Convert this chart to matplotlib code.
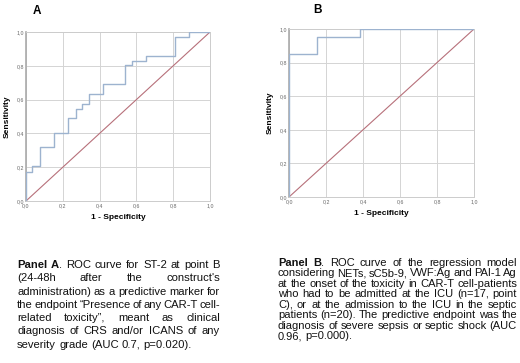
import matplotlib
matplotlib.use('Agg')
import matplotlib.pyplot as plt

plt.rcParams['font.family'] = ['Liberation Sans', 'DejaVu Sans']

# ROC Kurve Panel A (1 - Spezifitaet, Sensitivitaet)
fpr_a = [0.0, 0.0, 0.034, 0.034, 0.076, 0.076, 0.152, 0.152, 0.23, 0.23, 0.27, 0.27,
         0.306, 0.306, 0.344, 0.344, 0.42, 0.42, 0.54, 0.54, 0.578, 0.578, 0.652, 0.652,
         0.81, 0.81, 0.888, 0.888, 1.0]
tpr_a = [0.0, 0.173, 0.173, 0.207, 0.207, 0.321, 0.321, 0.404, 0.404, 0.492, 0.492, 0.547,
         0.547, 0.575, 0.575, 0.632, 0.632, 0.69, 0.69, 0.803, 0.803, 0.83, 0.83, 0.86,
         0.86, 0.97, 0.97, 1.0, 1.0]

# ROC Kurve Panel B
fpr_b = [0.0, 0.0, 0.153, 0.153, 0.382, 0.382, 1.0]
tpr_b = [0.0, 0.853, 0.853, 0.952, 0.952, 1.0, 1.0]

ticks = [0.0, 0.2, 0.4, 0.6, 0.8, 1.0]
tick_labels = ['0,0', '0,2', '0,4', '0,6', '0,8', '1,0']

text_a = [
    "Panel A. ROC curve for ST-2 at point B",
    "(24-48h after the construct's",
    "administration) as a predictive marker for",
    "the endpoint \u201cPresence of any CAR-T cell-",
    "related toxicity\u201d, meant as clinical",
    "diagnosis of CRS and/or ICANS of any",
    "severity grade (AUC 0.7, p=0.020).",
]
text_b = [
    "Panel B. ROC curve of the regression model",
    "considering NETs, sC5b-9, VWF:Ag and PAI-1 Ag",
    "at the onset of the toxicity in CAR-T cell-patients",
    "who had to be admitted at the ICU (n=17, point",
    "C), or at the admission to the ICU in the septic",
    "patients (n=20). The predictive endpoint was the",
    "diagnosis of severe sepsis or septic shock (AUC",
    "0.96, p=0.000).",
]

W, H = 520, 363
fig = plt.figure(figsize=(W / 100, H / 100), dpi=100)
fig.patch.set_facecolor('white')


def roc_axes(rect, fpr, tpr):
    ax = fig.add_axes(rect)
    ax.plot([0, 1], [0, 1], color='#b7707a', lw=0.8, zorder=2)
    ax.plot(fpr, tpr, color='#9db3cf', lw=1.0, zorder=3)
    ax.set_xlim(0, 1)
    ax.set_ylim(0, 1)
    ax.set_xticks(ticks)
    ax.set_yticks(ticks)
    ax.set_xticklabels(tick_labels)
    ax.set_yticklabels(tick_labels)
    ax.tick_params(labelsize=3.8, length=0, pad=1.5, colors='#666666')
    ax.grid(True, color='#d4d4d4', lw=0.7)
    ax.set_axisbelow(True)
    for s in ax.spines.values():
        s.set_color('#cccccc')
        s.set_linewidth(0.7)
    ax.spines['left'].set_color('#aaaaaa')
    ax.spines['left'].set_linewidth(1.2)
    ax.set_xlabel('1 - Specificity', fontsize=6, fontweight='bold', labelpad=4)
    ax.set_ylabel('Sensitivity', fontsize=6, fontweight='bold', labelpad=4)
    return ax


roc_axes([26 / W, 1 - 201 / H, 184 / W, 169 / H], fpr_a, tpr_a)
roc_axes([289 / W, 1 - 197 / H, 185 / W, 168 / H], fpr_b, tpr_b)

fig.text(37 / W, 1 - 11 / H, 'A', fontsize=8.5, fontweight='bold', ha='center', va='center')
fig.text(317 / W, 1 - 10 / H, 'B', fontsize=8.5, fontweight='bold', ha='center', va='center')

renderer = fig.canvas.get_renderer()


def text_width(s, size, weight):
    t = fig.text(0, 0, s, fontsize=size, fontweight=weight)
    w = t.get_window_extent(renderer=renderer).width
    t.remove()
    return w


# Blocksatz: Woerter jeder Zeile ausser der letzten auf volle Breite verteilen
def justified(lines, x0, x1, y0, dy, size):
    for i, line in enumerate(lines):
        words = line.split(' ')
        parts = []
        for j, w in enumerate(words):
            if i == 0 and j == 0:
                parts.append([(w, 'bold')])
            elif i == 0 and j == 1:
                parts.append([(w[:-1], 'bold'), (w[-1], 'normal')])
            else:
                parts.append([(w, 'normal')])
        widths = [sum(text_width(s, size, wt) for s, wt in p) for p in parts]
        last = i == len(lines) - 1
        if last or len(parts) == 1:
            gap = text_width('a a', size, 'normal') - 2 * text_width('a', size, 'normal')
        else:
            gap = (x1 - x0 - sum(widths)) / (len(parts) - 1)
        x = x0
        y = y0 + i * dy
        for p, w in zip(parts, widths):
            xx = x
            for s, wt in p:
                fig.text(xx / W, 1 - y / H, s, fontsize=size, fontweight=wt,
                         ha='left', va='baseline', color='#111111')
                xx += text_width(s, size, wt)
            x += w + gap


justified(text_a, 17, 220, 268, 13.3, 8.1)
justified(text_b, 278, 517, 266, 10.45, 8.0)

fig.savefig('out.png', dpi=100, facecolor='white')
